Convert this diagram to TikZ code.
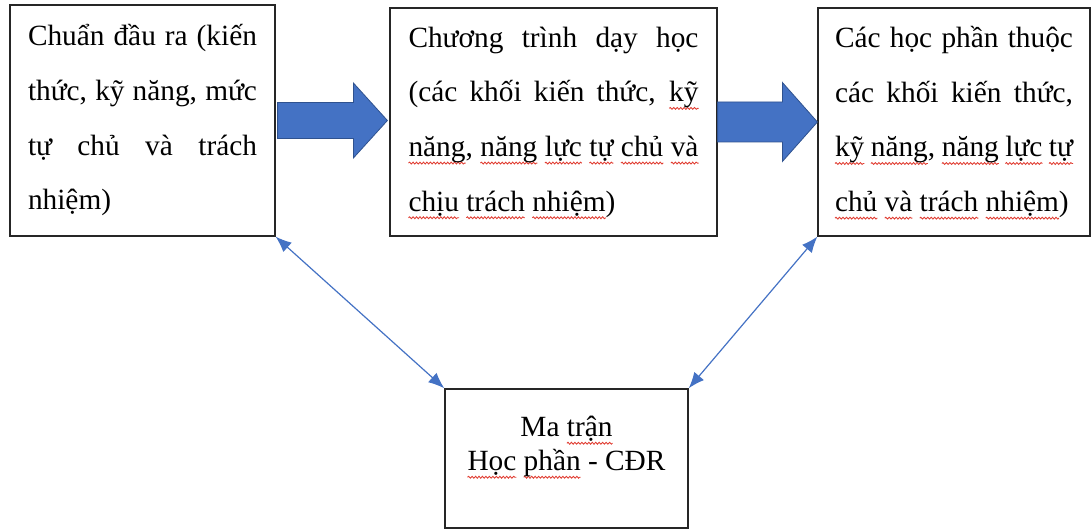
\documentclass[tikz,border=0pt]{standalone}
\usepackage{fontspec}
\setmainfont{Liberation Serif}
\usetikzlibrary{arrows.meta,calc,decorations.pathmorphing}
\definecolor{arrowblue}{HTML}{4472C4}
\definecolor{arrowedge}{HTML}{2F528F}
\definecolor{squigred}{HTML}{E03C31}
\tikzset
{
    box/.style = {draw=black!85, line width=0.9pt, align=justify, font=\fontsize{22}{41}\selectfont},
    blockarrow/.style = {fill=arrowblue, draw=arrowedge, line width=0.6pt},
    link/.style = {<->, >={Latex[length=12pt,width=9.5pt]}, draw=arrowblue, line width=0.9pt},
    squiggle/.style = {draw=squigred, line width=0.65pt, decorate, decoration={snake, amplitude=0.7pt, segment length=2.6pt}}
}
\newsavebox\sqbox
\newlength\sqwd
\newcommand{\sq}[1]{\sbox\sqbox{#1}\setlength\sqwd{\wd\sqbox}\rlap{\tikz[overlay]\draw[squiggle] (0pt,-5pt) -- (\sqwd,-5pt);}\usebox\sqbox}

\begin{document}
\begin{tikzpicture}[x=0.75pt, y=-0.75pt]
    \useasboundingbox (0,0) rectangle (1092,530);
    % ------------------------------------------------ the three upper boxes
    \node [box, minimum width=198.75pt, minimum height=173.25pt, text width=171.75pt] (b1) at (142.5,120.5)
        {Chuẩn đầu ra (kiến\linebreak thức, kỹ năng, mức\linebreak tự chủ và trách\linebreak nhiệm)};
    \node [box, minimum width=245.25pt, minimum height=171pt, text width=217.5pt] (b2) at (553.5,122)
        {Chương trình dạy học\linebreak (các khối kiến thức, \sq{kỹ}\linebreak
        \sq{năng}, \sq{năng} \sq{lực} \sq{tự} \sq{chủ} \sq{và}\linebreak \sq{chịu} \sq{trách} \sq{nhiệm})};
    \node [box, minimum width=204pt, minimum height=171pt, text width=178.5pt] (b3) at (954,122)
        {Các học phần thuộc\linebreak các khối kiến thức,\linebreak
        \sq{kỹ} \sq{năng}, \sq{năng} \sq{lực} \sq{tự}\linebreak \sq{chủ} \sq{và} \sq{trách} \sq{nhiệm})};
    % ------------------------------------------------ the matrix box
    \node [box, minimum width=182.25pt, minimum height=104.25pt, line width=1.1pt] (b4) at (566.5,458.5) {};
    \node [font=\fontsize{22}{25.5}\selectfont, align=center] (b4t) at ([yshift=9pt]b4.center)
        {Ma \sq{trận}\\\sq{Học} \sq{phần} - CĐR};
    % ------------------------------------------------ block arrows
    \coordinate (a1s) at ($(b1.east)+(2,0)$);
    \path (b2.west |- b1.east) ++(-2,0) coordinate (a1e);
    \draw [blockarrow] (a1s) ++(0,-18) -| ($(a1e)+(-34,-37.5)$) -- (a1e) -- ($(a1e)+(-34,37.5)$) |- ($(a1s)+(0,18)$) -- cycle;
    \coordinate (a2s) at (b2.east);
    \path (b3.west |- b2.east) coordinate (a2e);
    \draw [blockarrow] (a2s) ++(0,-20) -| ($(a2e)+(-35,-39.5)$) -- (a2e) -- ($(a2e)+(-35,39.5)$) |- ($(a2s)+(0,20)$) -- cycle;
    % ------------------------------------------------ links to the matrix
    \draw [link] (b1.south east) -- (b4.north west);
    \draw [link] (b3.south west) -- (b4.north east);
\end{tikzpicture}
\end{document}
